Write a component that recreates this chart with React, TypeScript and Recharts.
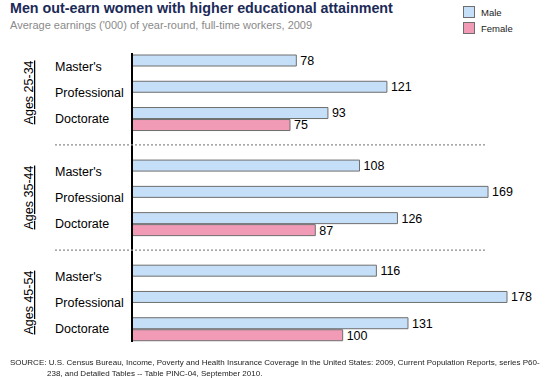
import React from 'react';
import { BarChart, Bar, XAxis, YAxis, LabelList } from 'recharts';

const ageGroups = ['Ages 25-34', 'Ages 35-44', 'Ages 45-54'];
const degrees = ["Master's", 'Professional', 'Doctorate'];
const maleEarnings = [78, 121, 93, 108, 169, 126, 116, 178, 131];
const femaleEarnings: (number | null)[] = [null, null, 75, null, null, 87, null, null, 100];

const FONT = '"Liberation Sans", Arial, sans-serif';

interface Row {
  key: string;
  degree: string;
  group: string;
  spacer: boolean;
  male: number | null;
  female: number | null;
}

// 3 degree rows per age group, with an empty row between groups for the divider
const rows: Row[] = [];
ageGroups.forEach((group, g) => {
  if (g > 0) {
    rows.push({ key: `sp${g}`, degree: '', group: '', spacer: true, male: null, female: null });
  }
  degrees.forEach((degree, d) => {
    const i = g * degrees.length + d;
    rows.push({
      key: `r${i}`,
      degree,
      group: d === 1 ? group : '',
      spacer: false,
      male: maleEarnings[i],
      female: femaleEarnings[i],
    });
  });
});

const RowTick = (props: any) => {
  const { y, payload } = props;
  const row = rows.find(r => r.key === payload.value);
  if (!row) return null;
  if (row.spacer) {
    return (
      <line x1={55} x2={485} y1={y} y2={y} stroke="#8c8c8c" strokeWidth={1.2} strokeDasharray="2 2" />
    );
  }
  return (
    <g>
      <text x={55} y={y} dy={4.5} textAnchor="start" fontSize={12.5} fill="#000" fontFamily={FONT}>
        {row.degree}
      </text>
      {row.group && (
        <text
          x={33}
          y={y}
          transform={`rotate(-90, 33, ${y})`}
          textAnchor="middle"
          fontSize={12.5}
          fill="#000"
          fontFamily={FONT}
          style={{ textDecoration: 'underline' }}
        >
          {row.group}
        </text>
      )}
    </g>
  );
};

export default function App() {
  return (
    <div style={{ position: 'fixed', left: 0, top: 0, width: 550, height: 378, background: '#fff', fontFamily: FONT }}>
      <div style={{ position: 'absolute', left: 10, top: 0, fontSize: 14.3, fontWeight: 'bold', color: '#1b2a57' }}>
        Men out-earn women with higher educational attainment
      </div>
      <div style={{ position: 'absolute', left: 10, top: 19, fontSize: 11, color: '#8a8a8a' }}>
        Average earnings ('000) of year-round, full-time workers, 2009
      </div>
      <div style={{ position: 'absolute', left: 463, top: 4, fontSize: 9.5, color: '#222' }}>
        <div style={{ display: 'flex', alignItems: 'center', height: 16 }}>
          <span style={{ width: 10, height: 10, background: '#c6dff8', border: '1px solid #6e6e6e', marginRight: 6 }} />
          Male
        </div>
        <div style={{ display: 'flex', alignItems: 'center', height: 16 }}>
          <span style={{ width: 10, height: 10, background: '#f29bb7', border: '1px solid #6e6e6e', marginRight: 6 }} />
          Female
        </div>
      </div>
      <BarChart
        width={550}
        height={378}
        data={rows}
        layout="vertical"
        margin={{ top: 53, right: 43, bottom: 36, left: 0 }}
        barSize={11}
        barGap={1}
        barCategoryGap={1}
      >
        <XAxis type="number" hide domain={[0, 178]} />
        <YAxis
          type="category"
          dataKey="key"
          width={132}
          tick={<RowTick />}
          tickLine={false}
          axisLine={{ stroke: '#000', strokeWidth: 2 }}
          interval={0}
        />
        <Bar dataKey="male" fill="#c6dff8" stroke="#6e6e6e" strokeWidth={1} isAnimationActive={false}>
          <LabelList dataKey="male" position="right" offset={4} fontSize={12.5} fill="#000" fontFamily={FONT} />
        </Bar>
        <Bar dataKey="female" fill="#f29bb7" stroke="#6e6e6e" strokeWidth={1} isAnimationActive={false}>
          <LabelList dataKey="female" position="right" offset={4} fontSize={12.5} fill="#000" fontFamily={FONT} />
        </Bar>
      </BarChart>
      <div style={{ position: 'absolute', left: 10, top: 357, fontSize: 8, color: '#222', lineHeight: '11px' }}>
        <div>
          SOURCE: U.S. Census Bureau, Income, Poverty and Health Insurance Coverage in the United States: 2009, Current Population Reports, series P60-
        </div>
        <div style={{ paddingLeft: 37 }}>238, and Detailed Tables -- Table PINC-04, September 2010.</div>
      </div>
    </div>
  );
}
